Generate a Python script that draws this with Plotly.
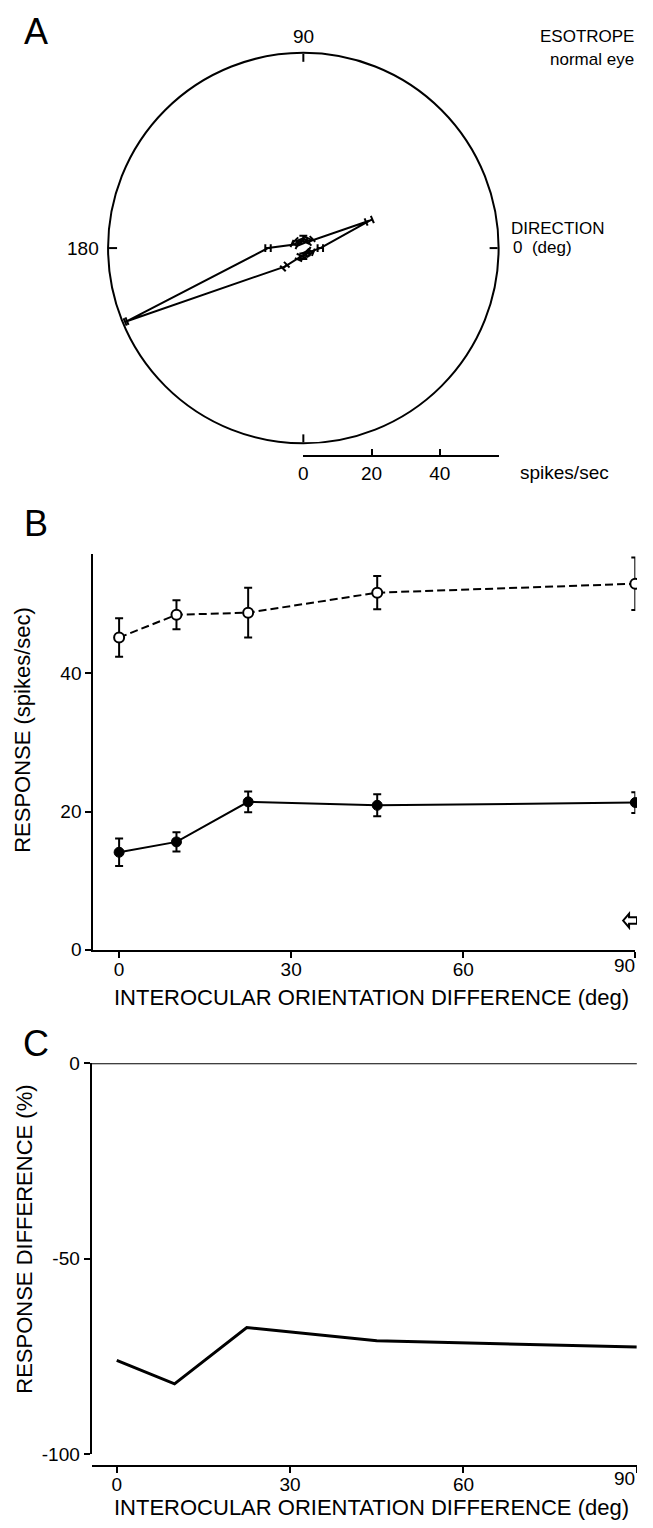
import math
import plotly.graph_objects as go

# Figures wider than ~638px get shrunk by the viewer, so the figure is kept
# 637px wide; layout positions below are window pixels from the top-left.
W, H = 637, 1528
FONT = "Liberation Sans, Arial, Helvetica, sans-serif"

# ---------------- Panel A data (polar direction tuning) ----------------
directions = [0, 22.5, 45, 67.5, 90, 112.5, 135, 157.5,
              180, 202.5, 225, 247.5, 270, 292.5, 315, 337.5]
dir_response = [5.0, 21.0, 3.0, 2.5, 2.8, 2.0, 2.5, 2.8,
                10.4, 56.5, 7.7, 3.0, 2.4, 2.0, 2.0, 2.5]
dir_error = [0.8, 1.0, 0.8, 0.7, 0.8, 0.7, 0.8, 0.8,
             0.8, 0.3, 0.8, 0.7, 0.8, 0.7, 0.7, 0.7]
polar_rmax = 57.5
angle_ticks = [0, 90, 180, 270]
scale_ticks = [0, 20, 40]

# ---------------- Panel B data ----------------
orient_diff = [0, 10, 22.5, 45, 90]
open_resp = [45.2, 48.5, 48.8, 51.7, 53.0]
open_err = [2.8, 2.1, 3.6, 2.4, 3.8]
filled_resp = [14.1, 15.6, 21.4, 20.9, 21.3]
filled_err = [2.0, 1.4, 1.5, 1.6, 1.5]
monocular_level = 4.2
x_ticks = [0, 30, 60, 90]
x_tick_labels = ["0", "30", "60", "90"]
b_y_ticks = [0, 20, 40]

# ---------------- Panel C data ----------------
resp_diff = [-76.0, -82.0, -67.6, -71.0, -72.6]
c_y_ticks = [-100, -50, 0]


def px(x):
    return x / W


def py(y):
    return 1 - y / H


fig = go.Figure()

# ---- Panel A: polar ----
R_PX = 198.0
px_per_unit = R_PX / polar_rmax
cap_half = 4.0 / px_per_unit  # cap half-width in data units

th_closed = directions + [directions[0]]
r_closed = dir_response + [dir_response[0]]
fig.add_trace(go.Scatterpolar(
    r=r_closed, theta=th_closed, mode="lines",
    line=dict(color="black", width=2), subplot="polar",
    hoverinfo="skip", showlegend=False))

eb_r, eb_t = [], []
for th, r, e in zip(directions, dir_response, dir_error):
    lo, hi = max(r - e, 0.05), r + e
    eb_r += [lo, hi, None]
    eb_t += [th, th, None]
    for R in (lo, hi):
        rr = math.hypot(R, cap_half)
        dt = math.degrees(math.atan2(cap_half, R))
        eb_r += [rr, rr, None]
        eb_t += [th - dt, th + dt, None]
fig.add_trace(go.Scatterpolar(
    r=eb_r, theta=eb_t, mode="lines",
    line=dict(color="black", width=2), subplot="polar",
    hoverinfo="skip", showlegend=False))

# scale bar axis trace (invisible)
fig.add_trace(go.Scatter(x=[0], y=[0], xaxis="x4", yaxis="y4", mode="markers",
                         marker=dict(opacity=0), hoverinfo="skip", showlegend=False))

# ---- Panel B ----
fig.add_trace(go.Scatter(
    x=orient_diff, y=open_resp, xaxis="x2", yaxis="y2", mode="lines+markers",
    line=dict(color="black", width=2, dash="8px,4px"),
    marker=dict(symbol="circle", size=10, color="white",
                line=dict(color="black", width=2)),
    error_y=dict(type="data", array=open_err, visible=True,
                 color="black", thickness=2, width=4),
    cliponaxis=False, showlegend=False))
fig.add_trace(go.Scatter(
    x=orient_diff, y=filled_resp, xaxis="x2", yaxis="y2", mode="lines+markers",
    line=dict(color="black", width=2),
    marker=dict(symbol="circle", size=10, color="black",
                line=dict(color="black", width=1)),
    error_y=dict(type="data", array=filled_err, visible=True,
                 color="black", thickness=2, width=4),
    cliponaxis=False, showlegend=False))

# ---- Panel C ----
fig.add_trace(go.Scatter(
    x=orient_diff, y=resp_diff, xaxis="x3", yaxis="y3", mode="lines",
    line=dict(color="black", width=3), cliponaxis=False, showlegend=False))

axis_common = dict(showline=True, linecolor="black", linewidth=2, showgrid=False,
                   zeroline=False, ticks="outside", ticklen=6, tickwidth=2,
                   tickcolor="black", ticklabeloverflow="allow",
                   tickfont=dict(size=19, color="black", family=FONT))

# last x tick label is drawn separately so it is not cut at the right edge
x_ticktext = x_tick_labels[:-1] + [""]

fig.update_layout(
    width=W, height=H, margin=dict(l=0, r=0, t=0, b=0),
    paper_bgcolor="white", plot_bgcolor="white",
    font=dict(family=FONT, color="black"),
    showlegend=False,
    polar=dict(
        domain=dict(x=[px(300.7 - R_PX), px(300.7 + R_PX)],
                    y=[py(241.4 + R_PX), py(241.4 - R_PX)]),
        bgcolor="white",
        radialaxis=dict(visible=False, range=[0, polar_rmax], showgrid=False),
        angularaxis=dict(showline=True, linecolor="black", linewidth=2,
                         ticks="inside", ticklen=8, tickwidth=2, tickcolor="black",
                         tickvals=angle_ticks, showticklabels=False, showgrid=False,
                         rotation=0, direction="counterclockwise"),
    ),
    xaxis4=dict(domain=[px(300.7), px(498.3)], range=[0, polar_rmax],
                anchor="free", position=py(452.3), showline=True, linecolor="black",
                linewidth=2, ticks="inside", ticklen=6, tickwidth=2, tickcolor="black",
                tickvals=scale_ticks, showgrid=False, zeroline=False,
                ticklabeloverflow="allow",
                tickfont=dict(size=19, color="black", family=FONT)),
    yaxis4=dict(domain=[py(452.3), py(451.3)], visible=False, anchor="x4",
                range=[0, 1]),
    xaxis2=dict(domain=[px(89), px(635.3)], range=[-4.5, 90], anchor="y2",
                tickvals=x_ticks, ticktext=x_ticktext, ticklabelstandoff=-4,
                **axis_common),
    yaxis2=dict(domain=[py(952.7), py(552)], range=[0, 57.24], anchor="x2",
                tickvals=b_y_ticks, **axis_common),
    xaxis3=dict(domain=[px(87.3), px(636.8)], range=[-4.35, 90], anchor="free",
                position=py(1476.7), tickvals=x_ticks, ticktext=x_ticktext,
                ticklabelstandoff=-5, **axis_common),
    yaxis3=dict(domain=[py(1464.3), py(1068)], range=[-100, 0], anchor="x3",
                tickvals=c_y_ticks, ticktext=[str(v) for v in c_y_ticks],
                **axis_common),
)

# zero line in panel C
fig.add_shape(type="line", xref="x3 domain", yref="y3", x0=0, x1=1, y0=0, y1=0,
              line=dict(color="black", width=2))

# monocular response marker: hollow left-pointing arrow at the right of panel B
y_unit_px = 400.7 / 57.24
hh, sh = 7.0 / y_unit_px, 3.3 / y_unit_px
m = monocular_level
tip, back, end = px(623), px(629), px(637)
fig.add_shape(type="path", xref="paper", yref="y2",
              path=(f"M {tip},{m} L {back},{m + hh} L {back},{m + sh} L {end},{m + sh} "
                    f"L {end},{m - sh} L {back},{m - sh} L {back},{m - hh} Z"),
              line=dict(color="black", width=2), fillcolor="white")


def ann(text, x, y, size, xanchor="center", angle=0, yanchor="middle"):
    fig.add_annotation(text=text, x=px(x), y=py(y), xref="paper", yref="paper",
                       showarrow=False, xanchor=xanchor, yanchor=yanchor,
                       textangle=angle, font=dict(size=size, color="black", family=FONT))


ann("A", 31, 22, 36)
ann("B", 31, 521, 36)
ann("C", 31, 1048, 36)
ann("90", 301, 27, 19)
ann("180", 79, 242, 19)
ann("DIRECTION", 508, 222, 17, "left")
ann("0  (deg)", 510, 241, 17, "left")
ann("ESOTROPE", 636, 27, 17, "right")
ann("normal eye", 636, 50, 17, "right")
ann("spikes/sec", 517, 469, 19, "left")
ann(x_tick_labels[-1], 637, 969, 19, "right")
ann(x_tick_labels[-1], 637, 1489, 19, "right")
ann("INTEROCULAR ORIENTATION DIFFERENCE (deg)", 369, 1001, 22)
ann("RESPONSE (spikes/sec)", 18, 730, 22, angle=-90)
ann("INTEROCULAR ORIENTATION DIFFERENCE (deg)", 369, 1518, 22)
ann("RESPONSE DIFFERENCE (%)", 20, 1246, 22, angle=-90)

fig.write_html("out.html")
